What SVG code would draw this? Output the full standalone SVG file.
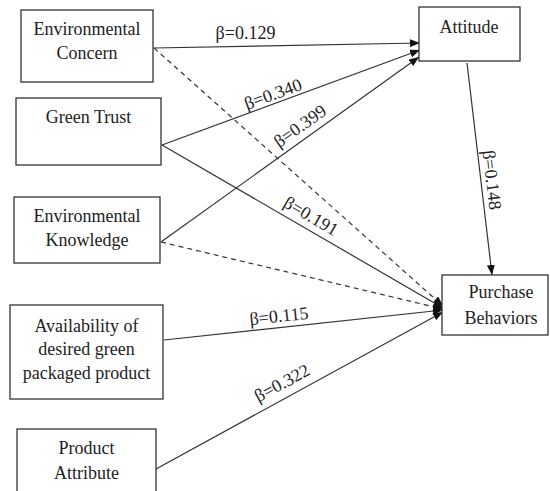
<svg xmlns="http://www.w3.org/2000/svg" width="550" height="491" viewBox="0 0 550 491">
<defs>
<style>
.box{fill:#fff;stroke:#333;stroke-width:1.3}
.t{font-family:"Liberation Serif","Times New Roman",serif;font-size:18px;fill:#222;text-anchor:middle}
.e{fill:none;stroke:#333;stroke-width:1.2;marker-end:url(#ah)}
.d{stroke-dasharray:5 4}
</style>
<marker id="ah" markerUnits="userSpaceOnUse" markerWidth="10" markerHeight="8" refX="10" refY="4" orient="auto" viewBox="0 0 10 8">
<path d="M0,0 L10,4 L0,8 z" fill="#111"/>
</marker>
</defs>
<rect width="550" height="491" fill="#fff"/>
<g id="edges">
<line class="e" x1="154" y1="48" x2="420" y2="43"/>
<line class="e d" x1="154" y1="48" x2="443" y2="306"/>
<line class="e" x1="162" y1="145" x2="420" y2="50"/>
<line class="e" x1="162" y1="145" x2="443" y2="308"/>
<line class="e" x1="161" y1="242" x2="419" y2="57"/>
<line class="e d" x1="161" y1="242" x2="443" y2="309"/>
<line class="e" x1="164" y1="340" x2="443" y2="310"/>
<line class="e" x1="156" y1="469" x2="443" y2="312"/>
<line class="e" x1="467" y1="63" x2="492" y2="275"/>
<text class="t" x="245.5" y="39">β=0.129</text>
<text class="t" transform="translate(273,94) rotate(-20.2)" y="6">β=0.340</text>
<text class="t" transform="translate(300,126) rotate(-35.5)" y="6">β=0.399</text>
<text class="t" transform="translate(311,216) rotate(30.3)" y="6">β=0.191</text>
<text class="t" transform="translate(492,180) rotate(83.3)" y="6">β=0.148</text>
<text class="t" transform="translate(279,316) rotate(-6.1)" y="6">β=0.115</text>
<text class="t" transform="translate(282,383) rotate(-28.6)" y="6">β=0.322</text>
</g>
<g id="env-concern">
<rect class="box" x="21" y="10" width="132" height="72"/>
<text class="t" x="87" y="35">Environmental</text>
<text class="t" x="87" y="59">Concern</text>
</g>
<g id="green-trust">
<rect class="box" x="16" y="98" width="145" height="67"/>
<text class="t" x="88.5" y="123">Green Trust</text>
</g>
<g id="env-knowledge">
<rect class="box" x="14" y="197" width="146" height="66"/>
<text class="t" x="87" y="222">Environmental</text>
<text class="t" x="87" y="246">Knowledge</text>
</g>
<g id="availability">
<rect class="box" x="10" y="305" width="153" height="94"/>
<text class="t" x="86.5" y="332">Availability of</text>
<text class="t" x="86.5" y="355">desired green</text>
<text class="t" x="86.5" y="379">packaged product</text>
</g>
<g id="product-attribute">
<rect class="box" x="17" y="429" width="139" height="70"/>
<text class="t" x="86.5" y="454">Product</text>
<text class="t" x="86.5" y="479">Attribute</text>
</g>
<g id="attitude">
<rect class="box" x="419" y="7" width="101" height="54"/>
<text class="t" x="469" y="33">Attitude</text>
</g>
<g id="purchase-behaviors">
<rect class="box" x="442" y="275" width="106" height="60"/>
<text class="t" x="501" y="298">Purchase</text>
<text class="t" x="501" y="324">Behaviors</text>
</g>
</svg>
